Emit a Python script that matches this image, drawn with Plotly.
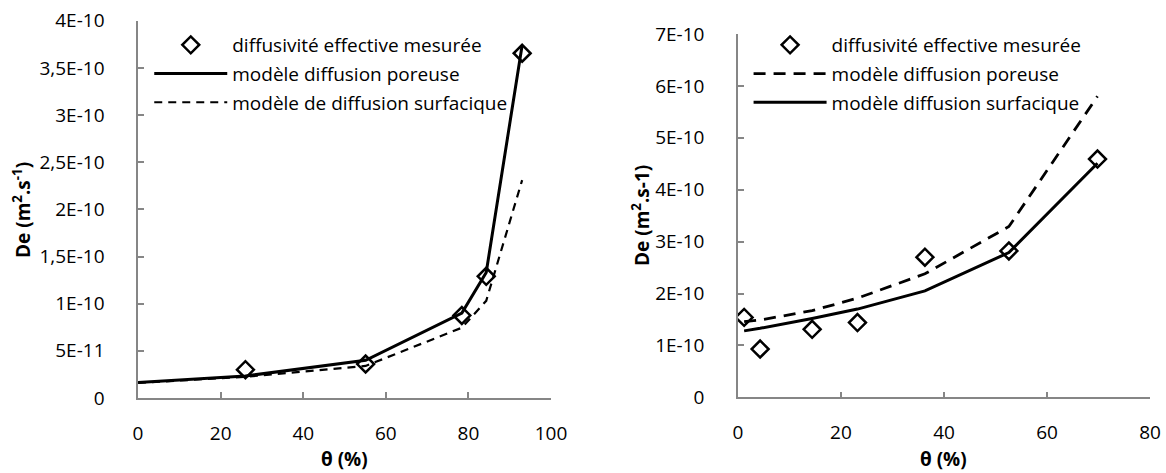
import plotly.graph_objects as go

# left panel
theta_left_model = [0, 26.0, 55.1, 78.4, 84.3, 93.0]
theta_left_mes = [26.0, 55.1, 78.4, 84.3, 93.0]
de_left_mes = [3.0e-11, 3.6e-11, 8.75e-11, 1.29e-10, 3.655e-10]
de_left_poreuse = [1.63e-11, 2.33e-11, 4.0e-11, 9.0e-11, 1.33e-10, 3.74e-10]
de_left_surf = [1.6e-11, 2.25e-11, 3.4e-11, 7.45e-11, 1.03e-10, 2.31e-10]

# right panel
theta_right = [1.2, 4.3, 14.4, 23.2, 36.3, 52.6, 69.8]
de_right_mes = [1.54e-10, 0.93e-10, 1.31e-10, 1.44e-10, 2.70e-10, 2.82e-10, 4.59e-10]
de_right_poreuse = [1.46e-10, 1.49e-10, 1.67e-10, 1.91e-10, 2.38e-10, 3.29e-10, 5.8e-10]
de_right_surf = [1.28e-10, 1.33e-10, 1.52e-10, 1.70e-10, 2.05e-10, 2.79e-10, 4.51e-10]

left_yticks = [0, 5e-11, 1e-10, 1.5e-10, 2e-10, 2.5e-10, 3e-10, 3.5e-10, 4e-10]
left_yticktext = ["0", "5E-11", "1E-10", "1,5E-10", "2E-10", "2,5E-10", "3E-10", "3,5E-10", "4E-10"]
right_yticks = [0, 1e-10, 2e-10, 3e-10, 4e-10, 5e-10, 6e-10, 7e-10]
right_yticktext = ["0", "1E-10", "2E-10", "3E-10", "4E-10", "5E-10", "6E-10", "7E-10"]

FONT = "Open Sans"
AXIS_GREY = "#868686"

diamond = dict(symbol="diamond-open", size=13, color="black", line=dict(width=2.5, color="black"))

fig = go.Figure()

# left chart
fig.add_trace(go.Scatter(
    x=theta_left_mes, y=de_left_mes, mode="markers", marker=diamond,
    name="diffusivité effective mesurée", legend="legend", legendgroup="a",
    xaxis="x", yaxis="y"))
fig.add_trace(go.Scatter(
    x=theta_left_model, y=de_left_poreuse, mode="lines",
    line=dict(color="black", width=3),
    name="modèle diffusion poreuse", legend="legend", legendgroup="b",
    xaxis="x", yaxis="y"))
fig.add_trace(go.Scatter(
    x=theta_left_model, y=de_left_surf, mode="lines",
    line=dict(color="black", width=2.2, dash="8px,6px"),
    name="modèle de diffusion surfacique", legend="legend", legendgroup="c",
    xaxis="x", yaxis="y"))

# right chart
fig.add_trace(go.Scatter(
    x=theta_right, y=de_right_mes, mode="markers", marker=diamond,
    name="diffusivité effective mesurée", legend="legend2", legendgroup="d",
    xaxis="x2", yaxis="y2"))
fig.add_trace(go.Scatter(
    x=theta_right, y=de_right_poreuse, mode="lines",
    line=dict(color="black", width=2.8, dash="12px,8px"),
    name="modèle diffusion poreuse", legend="legend2", legendgroup="e",
    xaxis="x2", yaxis="y2"))
fig.add_trace(go.Scatter(
    x=theta_right, y=de_right_surf, mode="lines",
    line=dict(color="black", width=3),
    name="modèle diffusion surfacique", legend="legend2", legendgroup="f",
    xaxis="x2", yaxis="y2"))

axis_style = dict(
    showline=True, linecolor=AXIS_GREY, linewidth=1.5,
    ticks="inside", tickcolor=AXIS_GREY, ticklen=6, tickwidth=1.5,
    showgrid=False, zeroline=False, automargin=False,
    tickfont=dict(family=FONT, size=19, color="black"),
)

fig.update_layout(
    width=1166, height=473,
    margin=dict(l=0, r=0, t=0, b=0, autoexpand=False),
    paper_bgcolor="white", plot_bgcolor="white",
    font=dict(family=FONT, size=19, color="black"),
    xaxis=dict(domain=[0.1184, 0.4726], range=[0, 100], tickvals=[0, 20, 40, 60, 80, 100],
               anchor="y", ticklabelstandoff=17, **axis_style),
    yaxis=dict(domain=[0.1586, 0.9562], range=[0, 4e-10], tickvals=left_yticks,
               ticktext=left_yticktext, anchor="x", ticklabelstandoff=28, **axis_style),
    xaxis2=dict(domain=[0.6329, 0.9863], range=[0, 80], tickvals=[0, 20, 40, 60, 80],
                anchor="y2", ticklabelstandoff=17, **axis_style),
    yaxis2=dict(domain=[0.1600, 0.9281], range=[0, 7e-10], tickvals=right_yticks,
                ticktext=right_yticktext, anchor="x2", ticklabelstandoff=28, **axis_style),
    legend=dict(x=0.128, y=0.945, xanchor="left", yanchor="top",
                bgcolor="rgba(0,0,0,0)", itemwidth=73, tracegroupgap=1,
                font=dict(family=FONT, size=19)),
    legend2=dict(x=0.642, y=0.945, xanchor="left", yanchor="top",
                 bgcolor="rgba(0,0,0,0)", itemwidth=73, tracegroupgap=1,
                 font=dict(family=FONT, size=19)),
    annotations=[
        dict(text="<b>θ (%)</b>", x=0.2955, y=1 - 459 / 473, xref="paper", yref="paper",
             showarrow=False, xanchor="center", yanchor="middle", font=dict(size=19)),
        dict(text="<b>θ (%)</b>", x=0.8096, y=1 - 459 / 473, xref="paper", yref="paper",
             showarrow=False, xanchor="center", yanchor="middle", font=dict(size=19)),
        dict(text="<b>De (m<sup>2</sup>.s<sup>-1</sup>)</b>", x=22 / 1166, y=1 - 210 / 473,
             xref="paper", yref="paper", showarrow=False, textangle=-90,
             xanchor="center", yanchor="middle", font=dict(size=19)),
        dict(text="<b>De (m<sup>2</sup>.s-1)</b>", x=641 / 1166, y=1 - 216 / 473,
             xref="paper", yref="paper", showarrow=False, textangle=-90,
             xanchor="center", yanchor="middle", font=dict(size=19)),
    ],
)

# the page's default body margin would shift the figure by 8px
fig.write_html("out.html", config={"displayModeBar": False},
               post_script="document.body.style.margin = '0';")
